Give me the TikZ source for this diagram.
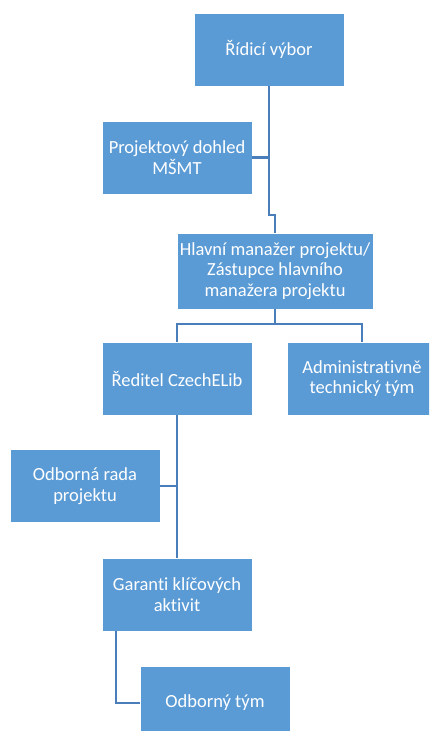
\documentclass[tikz,border=0pt]{standalone}
\usepackage{fontspec}
\setmainfont[Ligatures=NoCommon]{Carlito}
\definecolor{boxfill}{RGB}{91,155,213}
\definecolor{linecol}{RGB}{74,126,187}
\begin{document}
\begin{tikzpicture}[x=1pt,y=-1pt,
  orgbox/.style={rectangle, fill=boxfill, draw=white, line width=0.8pt, text=white,
    minimum width=150pt, minimum height=73pt, align=center, inner sep=2pt,
    font=\fontsize{18.5}{20.5}\selectfont},
  conn/.style={draw=linecol, line width=2.2pt}]
\clip (0,0) rectangle (429,731);
\fill[white] (0,0) rectangle (429,731);
\node[orgbox] (rid) at (269,49.5) {Řídicí výbor};
\node[orgbox] (proj) at (177,157.5) {Projektový dohled\\MŠMT};
\node[orgbox, minimum width=196pt, minimum height=76pt] (hla) at (275,271) {Hlavní manažer projektu/\\Zástupce hlavního\\manažera projektu};
\node[orgbox] (red) at (177,378.5) {Ředitel CzechELib};
\node[orgbox] (adm) at (362,378.5) {Administrativně\\technický tým};
\node[orgbox] (odb) at (85,486) {Odborná rada\\projektu};
\node[orgbox] (gar) at (177,594.5) {Garanti klíčových\\aktivit};
\node[orgbox, minimum height=74pt] (tym) at (215,703) {Odborný tým};
\coordinate (j1) at (269,215);
\coordinate (j2) at (275,324);
\coordinate (j3) at (116,703);
\draw[conn] (rid.south) -- (j1) -- (j1 -| hla.north) -- (hla.north);
\draw[conn] (proj.east) -- (proj.east -| rid.south);
\draw[conn] (hla.south) -- (j2);
\draw[conn] (red.north) |- (j2) -| (adm.north);
\draw[conn] (red.south) -- (gar.north);
\draw[conn] (odb.east) -- (odb.east -| red.south);
\draw[conn] (gar.south -| j3) -- (j3) -- (tym.west);
\end{tikzpicture}
\end{document}
